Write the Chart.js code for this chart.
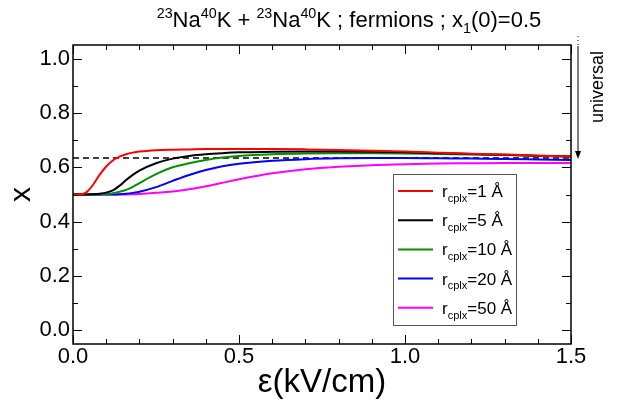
<!DOCTYPE html>
<html>
<head>
<meta charset="utf-8">
<script src="https://cdn.jsdelivr.net/npm/chart.js@4/dist/chart.umd.min.js"></script>
<style>
html, body { margin: 0; padding: 0; background: #fff; }
#wrap { width: 632px; height: 407px; }
</style>
</head>
<body>
<div id="wrap"><canvas id="chart"></canvas></div>
<script>
// field values (kV/cm)
const eps = [0, 0.02, 0.04, 0.06, 0.08, 0.1, 0.12, 0.14, 0.16, 0.18, 0.2, 0.25, 0.3, 0.35, 0.4, 0.45, 0.5,
             0.6, 0.7, 0.8, 0.9, 1.0, 1.1, 1.2, 1.3, 1.4, 1.5];

// x for each complex radius
const x_r1  = [0.5, 0.5, 0.508, 0.535, 0.572, 0.603, 0.625, 0.639, 0.648, 0.654, 0.658, 0.663, 0.665, 0.666, 0.667, 0.667, 0.667,
               0.667, 0.666, 0.664, 0.661, 0.658, 0.654, 0.650, 0.647, 0.643, 0.640];
const x_r5  = [0.5, 0.5, 0.5, 0.501, 0.503, 0.507, 0.515, 0.532, 0.553, 0.572, 0.588, 0.615, 0.632, 0.642, 0.648, 0.652, 0.655,
               0.657, 0.658, 0.658, 0.657, 0.655, 0.652, 0.649, 0.646, 0.643, 0.640];
const x_r10 = [0.5, 0.5, 0.5, 0.5, 0.5, 0.502, 0.505, 0.51, 0.517, 0.528, 0.542, 0.575, 0.6, 0.615, 0.627, 0.636, 0.642,
               0.648, 0.651, 0.652, 0.652, 0.651, 0.649, 0.647, 0.645, 0.642, 0.640];
const x_r20 = [0.5, 0.5, 0.5, 0.5, 0.5, 0.5, 0.5, 0.501, 0.503, 0.506, 0.51, 0.527, 0.55, 0.572, 0.59, 0.604, 0.613,
               0.624, 0.630, 0.633, 0.634, 0.634, 0.633, 0.632, 0.631, 0.629, 0.627];
const x_r50 = [0.5, 0.5, 0.5, 0.5, 0.5, 0.5, 0.5, 0.5, 0.5, 0.501, 0.502, 0.506, 0.511, 0.519, 0.53, 0.543, 0.556,
               0.578, 0.593, 0.602, 0.608, 0.611, 0.614, 0.615, 0.616, 0.616, 0.616];

const radii = ['1', '5', '10', '20', '50'];
const series = [x_r1, x_r5, x_r10, x_r20, x_r50];
const colors = ['#ff0000', '#000000', '#009000', '#0000ff', '#ff00ff'];
const universal = 0.634;

const xTicks = [0, 0.5, 1.0, 1.5];
const yTicks = [0, 0.2, 0.4, 0.6, 0.8, 1.0];

const FONT = '"Liberation Sans", Arial, Helvetica, sans-serif';

let datasets = series.map((s, i) => ({
    label: 'r_cplx=' + radii[i] + ' Å',
    data: eps.map((e, j) => ({x: e, y: s[j]})),
    borderColor: colors[i],
    borderWidth: 2,
    pointRadius: 0,
    fill: false,
    cubicInterpolationMode: 'monotone'
}));
datasets.push({
    label: 'universal',
    data: [{x: 0, y: universal}, {x: 1.5, y: universal}],
    borderColor: '#000',
    borderWidth: 1.5,
    borderDash: [6, 4],
    pointRadius: 0,
    fill: false
});

// draw text with super/subscript pieces, returns width
function richText(ctx, parts, x, y, size, measureOnly) {
    let w = 0;
    parts.forEach(p => {
        let s = p.sup || p.sub ? size * 0.65 : size;
        ctx.font = s + 'px ' + FONT;
        let dy = p.sup ? -size * 0.42 : (p.sub ? size * 0.28 : 0);
        if (!measureOnly) ctx.fillText(p.t, x + w, y + dy);
        w += ctx.measureText(p.t).width;
    });
    return w;
}

const decor = {
    id: 'decor',
    afterDraw(chart) {
        const ctx = chart.ctx;
        const {left, right, top, bottom} = chart.chartArea;
        const xs = chart.scales.x, ys = chart.scales.y;
        ctx.save();

        // frame + inward ticks
        ctx.strokeStyle = '#000';
        ctx.lineWidth = 1;
        ctx.beginPath();
        for (let i = 0; i <= 15; i++) {
            let px = Math.round(xs.getPixelForValue(i / 10)) + 0.5;
            let len = i % 5 === 0 ? 9 : 5;
            ctx.moveTo(px, bottom); ctx.lineTo(px, bottom - len);
            ctx.moveTo(px, top); ctx.lineTo(px, top + len);
        }
        for (let i = 0; i <= 10; i++) {
            let py = Math.round(ys.getPixelForValue(i / 10)) + 0.5;
            let len = i % 2 === 0 ? 9 : 5;
            ctx.moveTo(left, py); ctx.lineTo(left + len, py);
            ctx.moveTo(right, py); ctx.lineTo(right - len, py);
        }
        ctx.stroke();
        ctx.lineWidth = 1.5;
        ctx.strokeRect(left, top, right - left, bottom - top);

        // title
        ctx.fillStyle = '#000';
        ctx.textBaseline = 'alphabetic';
        const tparts = [{t: '23', sup: 1}, {t: 'Na'}, {t: '40', sup: 1}, {t: 'K + '},
                        {t: '23', sup: 1}, {t: 'Na'}, {t: '40', sup: 1}, {t: 'K ; fermions ; x'},
                        {t: '1', sub: 1}, {t: '(0)=0.5'}];
        let tw = richText(ctx, tparts, 0, 0, 22, true);
        richText(ctx, tparts, 349 - tw / 2, 27, 22, false);

        // legend box
        const lx = 393, ly = 174, lw = 123, lh = 151;
        ctx.fillStyle = '#fff';
        ctx.fillRect(lx, ly, lw, lh);
        ctx.strokeStyle = '#555';
        ctx.lineWidth = 1;
        ctx.strokeRect(lx + 0.5, ly + 0.5, lw, lh);
        radii.forEach((r, i) => {
            let ry = 191 + i * 29.2;
            ctx.strokeStyle = colors[i];
            ctx.lineWidth = 2;
            ctx.beginPath();
            ctx.moveTo(398, ry); ctx.lineTo(433, ry);
            ctx.stroke();
            ctx.fillStyle = '#000';
            richText(ctx, [{t: 'r'}, {t: 'cplx', sub: 1}, {t: '=' + r + ' Å'}], 442, ry + 6, 17, false);
        });

        // "universal" arrow
        const ax = 578;
        const ay = ys.getPixelForValue(universal);
        ctx.strokeStyle = '#000';
        ctx.lineWidth = 1;
        ctx.setLineDash([1, 3]);
        ctx.beginPath();
        ctx.moveTo(ax, 36); ctx.lineTo(ax, 46);
        ctx.stroke();
        ctx.setLineDash([]);
        ctx.beginPath();
        ctx.moveTo(ax, 46); ctx.lineTo(ax, ay - 4);
        ctx.stroke();
        ctx.fillStyle = '#000';
        ctx.beginPath();
        ctx.moveTo(ax, ay + 1); ctx.lineTo(ax - 3, ay - 7); ctx.lineTo(ax + 3, ay - 7);
        ctx.closePath();
        ctx.fill();

        ctx.translate(603, 87);
        ctx.rotate(-Math.PI / 2);
        ctx.font = '18px ' + FONT;
        ctx.textAlign = 'center';
        ctx.textBaseline = 'alphabetic';
        ctx.fillText('universal', 0, 0);
        ctx.restore();
    }
};

new Chart(document.getElementById('chart'), {
    type: 'line',
    data: {datasets: datasets},
    options: {
        responsive: true,
        maintainAspectRatio: false,
        animation: false,
        layout: {padding: {top: 45, right: 61, left: 0, bottom: 0}},
        plugins: {legend: {display: false}, title: {display: false}, tooltip: {enabled: false}},
        scales: {
            x: {
                type: 'linear', min: 0, max: 1.5,
                afterBuildTicks: s => { s.ticks = xTicks.map(v => ({value: v})); },
                afterFit: s => { s.height = 63; },
                grid: {display: false, drawTicks: false},
                border: {display: false},
                ticks: {
                    callback: v => v.toFixed(1), autoSkip: false, maxRotation: 0, padding: 2,
                    color: '#000', font: {family: FONT, size: 22, lineHeight: 1}
                },
                title: {
                    display: true, text: 'ε(kV/cm)', color: '#000',
                    font: {family: FONT, size: 33, lineHeight: 1.2}, padding: {top: 0, bottom: 4}
                }
            },
            y: {
                min: -0.05, max: 1.05,
                afterBuildTicks: s => { s.ticks = yTicks.map(v => ({value: v})); },
                afterFit: s => { s.width = 73; },
                grid: {display: false, drawTicks: false},
                border: {display: false},
                ticks: {
                    callback: v => v.toFixed(1), autoSkip: false, padding: 3,
                    color: '#000', font: {family: FONT, size: 22, lineHeight: 1}
                },
                title: {
                    display: true, text: 'x', color: '#000',
                    font: {family: FONT, size: 30, lineHeight: 1.2}, padding: {top: 4, bottom: 0}
                }
            }
        }
    },
    plugins: [decor]
});
</script>
</body>
</html>
